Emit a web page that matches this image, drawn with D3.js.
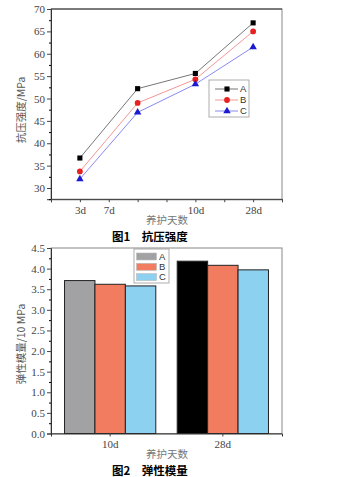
<!DOCTYPE html>
<html><head><meta charset="utf-8">
<script src="https://cdn.jsdelivr.net/npm/d3@7"></script>
<style>body{margin:0;background:#fff}svg{display:block}</style>
</head><body>
<script>
// ---- Data ----
const linePositions = [1, 3, 5, 7];
const seriesNames = ["A","B","C"];
const strengthA = [36.7, 52.2, 55.6, 66.9];
const strengthB = [33.7, 49.0, 54.3, 65.0];
const strengthC = [32.0, 46.9, 53.2, 61.5];
const xTickPositions = [0,1,2,3,4,5,6,7,8];
const xTickLabels = {1:"3d", 2:"7d", 5:"10d", 7:"28d"};
const yTicks1 = [30,35,40,45,50,55,60,65,70];

const barCategories = ["10d","28d"];
const modulusA = [3.71, 4.18];
const modulusB = [3.62, 4.08];
const modulusC = [3.58, 3.97];
const yTicks2 = [0,0.5,1,1.5,2,2.5,3,3.5,4,4.5];

const W = 348, H = 477;
const svg = d3.select("body").append("svg").attr("width", W).attr("height", H);
const serif = "'Liberation Serif','DejaVu Serif',serif";
const cjk = "'Noto Sans CJK SC',sans-serif";

// ===== Chart 1 =====
const x1 = d3.scaleLinear().domain([0, 8]).range([51, 282]);
const y1 = d3.scaleLinear().domain([27.5, 70]).range([199.2, 9]);
const g1 = svg.append("g");
g1.append("rect").attr("x", x1(0)).attr("y", y1(70)).attr("width", x1(8)-x1(0)).attr("height", y1(27.5)-y1(70))
  .attr("fill", "#fff").attr("stroke", "#888").attr("stroke-width", 1);

const yAx1 = d3.axisLeft(y1).tickValues(yTicks1).tickSize(4).tickPadding(2).tickFormat(d3.format("d"));
const ga1 = g1.append("g").attr("transform", `translate(${x1(0)},0)`).call(yAx1);
g1.append("g").attr("transform", `translate(${x1(0)},0)`)
  .call(d3.axisLeft(y1).tickValues(d3.range(27.5, 70, 5)).tickSize(2).tickFormat(""))
  .call(g => g.select(".domain").remove());
const xAx1 = d3.axisBottom(x1).tickValues(xTickPositions).tickSize(3).tickPadding(4)
  .tickFormat(d => xTickLabels[d] || "");
const gx1 = g1.append("g").attr("transform", `translate(0,${y1(27.5)})`).call(xAx1);
[ga1, gx1].forEach(g => {
  g.selectAll("text").attr("font-family", serif).attr("font-size", 11).attr("fill", "#444");
  g.selectAll("line").attr("stroke", "#444");
  g.select(".domain").attr("stroke", "#333");
});
g1.append("line").attr("x1", x1(0)).attr("x2", x1(8)).attr("y1", y1(70)).attr("y2", y1(70)).attr("stroke", "#333");

const lineSeries = [
  {name: "A", vals: strengthA, line: "#666", fill: "#000", shape: d3.symbolSquare, size: 26},
  {name: "B", vals: strengthB, line: "#f08a8a", fill: "#e82020", shape: d3.symbolCircle, size: 26},
  {name: "C", vals: strengthC, line: "#7c7cf0", fill: "#1a1ad0", shape: d3.symbolTriangle, size: 24}
];
const lineGen = d3.line().x((d, i) => x1(linePositions[i])).y(d => y1(d));
lineSeries.forEach(s => {
  g1.append("path").datum(s.vals).attr("d", lineGen).attr("fill", "none").attr("stroke", s.line).attr("stroke-width", 0.9);
  g1.selectAll(null).data(s.vals).join("path")
    .attr("transform", (d, i) => `translate(${x1(linePositions[i])},${y1(d)})`)
    .attr("d", d3.symbol().type(s.shape).size(s.size)).attr("fill", s.fill);
});
const lg1 = g1.append("g");
lg1.append("rect").attr("x", 209).attr("y", 80).attr("width", 40).attr("height", 37)
  .attr("fill", "#fff").attr("stroke", "#999").attr("stroke-width", 0.8);
lineSeries.forEach((s, i) => {
  const yy = 89 + i * 11;
  lg1.append("line").attr("x1", 215).attr("x2", 238).attr("y1", yy).attr("y2", yy).attr("stroke", s.line).attr("stroke-width", 0.9);
  lg1.append("path").attr("transform", `translate(227,${yy})`).attr("d", d3.symbol().type(s.shape).size(s.size)).attr("fill", s.fill);
  lg1.append("text").attr("x", 240).attr("y", yy).attr("dy", "0.35em").attr("font-family", "'Liberation Sans',sans-serif")
    .attr("font-size", 9.5).attr("fill", "#333").text(s.name);
});
g1.append("text").attr("transform", `translate(21,110) rotate(-90)`).attr("text-anchor", "middle").attr("dy", "0.35em")
  .attr("font-family", cjk).attr("font-size", 10.5).attr("fill", "#555").text("抗压强度/MPa");
g1.append("text").attr("x", 167).attr("y", 220).attr("text-anchor", "middle").attr("dy", "0.35em")
  .attr("font-family", cjk).attr("font-size", 10.5).attr("fill", "#777").text("养护天数");
g1.append("text").attr("x", 112).attr("y", 236.5).attr("dy", "0.35em")
  .attr("font-family", cjk).attr("font-size", 11.5).attr("font-weight", "bold").attr("fill", "#000")
  .text("图1　抗压强度");

// ===== Chart 2 =====
const x2 = d3.scaleBand().domain(barCategories).range([51, 282]).paddingInner(0.19).paddingOuter(0.12);
const xs2 = d3.scaleBand().domain(seriesNames).range([0, x2.bandwidth()]);
const y2 = d3.scaleLinear().domain([0, 4.5]).range([433.5, 248]);
const g2 = svg.append("g");
g2.append("rect").attr("x", 51).attr("y", y2(4.5)).attr("width", 231).attr("height", y2(0)-y2(4.5))
  .attr("fill", "#fff").attr("stroke", "#888");
const barColors = {A: ["#a2a2a4", "#000000"], B: ["#f27c5f", "#f27c5f"], C: ["#8dd1f0", "#8dd1f0"]};
const barData = [];
barCategories.forEach((c, ci) => {
  barData.push({cat: c, s: "A", v: modulusA[ci], color: barColors.A[ci]});
  barData.push({cat: c, s: "B", v: modulusB[ci], color: barColors.B[ci]});
  barData.push({cat: c, s: "C", v: modulusC[ci], color: barColors.C[ci]});
});
g2.selectAll("rect.bar").data(barData).join("rect").attr("class", "bar")
  .attr("x", d => x2(d.cat) + xs2(d.s)).attr("width", xs2.bandwidth())
  .attr("y", d => y2(d.v)).attr("height", d => y2(0) - y2(d.v))
  .attr("fill", d => d.color).attr("stroke", "#222").attr("stroke-width", 1);
const ga2 = g2.append("g").attr("transform", "translate(51,0)")
  .call(d3.axisLeft(y2).tickValues(yTicks2).tickSize(4).tickPadding(2).tickFormat(d3.format(".1f")));
g2.append("g").attr("transform", "translate(51,0)")
  .call(d3.axisLeft(y2).tickValues(d3.range(0.25, 4.5, 0.5)).tickSize(2).tickFormat(""))
  .call(g => g.select(".domain").remove());
const gx2 = g2.append("g").attr("transform", `translate(0,${y2(0)})`)
  .call(d3.axisBottom(x2).tickSize(3).tickPadding(4));
[ga2, gx2].forEach(g => {
  g.selectAll("text").attr("font-family", serif).attr("font-size", 11).attr("fill", "#444");
  g.selectAll("line").attr("stroke", "#444");
  g.select(".domain").attr("stroke", "#333");
});
const lg2 = g2.append("g");
lg2.append("rect").attr("x", 134).attr("y", 249).attr("width", 35).attr("height", 34)
  .attr("fill", "#fff").attr("stroke", "#999").attr("stroke-width", 0.8);
seriesNames.forEach((s, i) => {
  const yy = 256.5 + i * 10.3;
  lg2.append("rect").attr("x", 136.5).attr("y", yy - 3.5).attr("width", 20).attr("height", 7)
    .attr("fill", barColors[s][0]).attr("stroke", "#bbb").attr("stroke-width", 0.6);
  lg2.append("text").attr("x", 159).attr("y", yy).attr("dy", "0.35em").attr("font-family", "'Liberation Sans',sans-serif")
    .attr("font-size", 9.5).attr("fill", "#333").text(s);
});
g2.append("text").attr("transform", `translate(21,344) rotate(-90)`).attr("text-anchor", "middle").attr("dy", "0.35em")
  .attr("font-family", cjk).attr("font-size", 10.5).attr("fill", "#555").text("弹性模量/10 MPa");
g2.append("text").attr("x", 167).attr("y", 454.5).attr("text-anchor", "middle").attr("dy", "0.35em")
  .attr("font-family", cjk).attr("font-size", 10.5).attr("fill", "#777").text("养护天数");
g2.append("text").attr("x", 112).attr("y", 470.5).attr("dy", "0.35em")
  .attr("font-family", cjk).attr("font-size", 11.5).attr("font-weight", "bold").attr("fill", "#000")
  .text("图2　弹性模量");
</script>
</body></html>
